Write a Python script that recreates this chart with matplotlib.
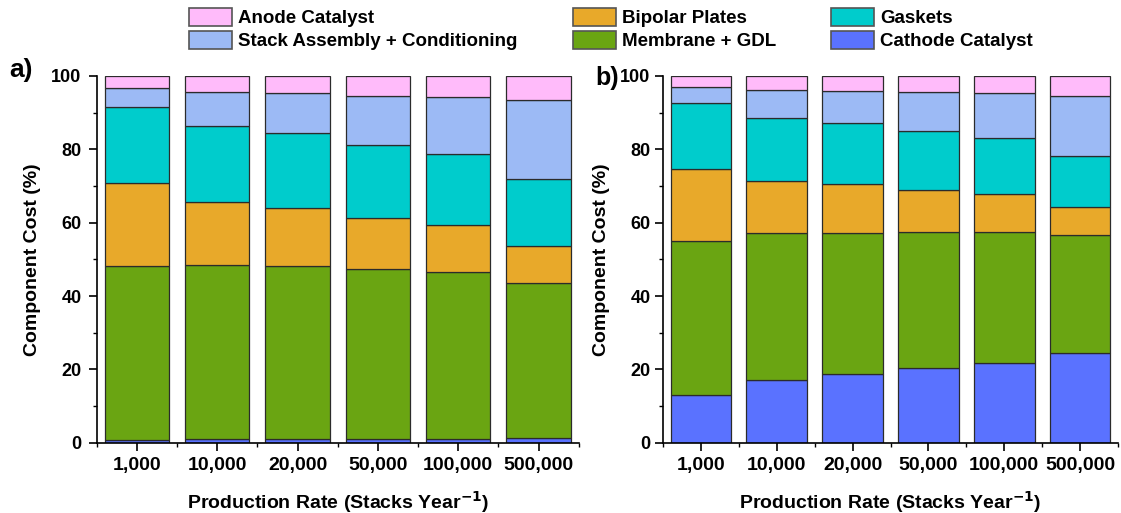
import numpy as np
import matplotlib
matplotlib.use("Agg")
import matplotlib.pyplot as plt
from matplotlib.patches import Patch
from matplotlib.ticker import MultipleLocator

plt.rcParams['font.family'] = ['Liberation Sans', 'DejaVu Sans']
plt.rcParams['font.weight'] = 'bold'
plt.rcParams['mathtext.default'] = 'bf'

rates = ['1,000', '10,000', '20,000', '50,000', '100,000', '500,000']

# component shares (%) per production rate, bottom to top
comp_names = ['Cathode Catalyst', 'Membrane + GDL', 'Bipolar Plates',
              'Gaskets', 'Stack Assembly + Conditioning', 'Anode Catalyst']
colors = ['#5a72ff', '#6aa512', '#e8a92a', '#00cccc', '#9cbaf5', '#ffbbfa']

a_cathode = [0.7, 0.9, 0.9, 1.0, 1.1, 1.4]
a_membrane = [47.6, 47.5, 47.2, 46.3, 45.4, 42.1]
a_bipolar = [22.6, 17.3, 16.0, 14.1, 12.8, 10.0]
a_gaskets = [20.6, 20.7, 20.4, 19.9, 19.3, 18.4]
a_stack = [5.2, 9.3, 10.8, 13.3, 15.6, 21.5]
a_anode = [3.3, 4.3, 4.7, 5.4, 5.8, 6.6]

b_cathode = [13.1, 17.2, 18.7, 20.3, 21.6, 24.4]
b_membrane = [41.8, 39.9, 38.6, 37.2, 35.9, 32.2]
b_bipolar = [19.7, 14.2, 13.1, 11.3, 10.2, 7.8]
b_gaskets = [18.0, 17.2, 16.7, 16.2, 15.3, 13.8]
b_stack = [4.5, 7.7, 8.8, 10.6, 12.4, 16.4]
b_anode = [2.9, 3.8, 4.1, 4.4, 4.6, 5.4]

panel_a = [a_cathode, a_membrane, a_bipolar, a_gaskets, a_stack, a_anode]
panel_b = [b_cathode, b_membrane, b_bipolar, b_gaskets, b_stack, b_anode]

fig = plt.figure(figsize=(11.21, 5.13), dpi=100)
ax_a = fig.add_axes([0.0863, 0.137, 0.430, 0.715])
ax_b = fig.add_axes([0.5914, 0.137, 0.406, 0.715])


def draw(ax, data, ypad):
    x = np.arange(len(rates))
    bottom = np.zeros(len(rates))
    for vals, c in zip(data, colors):
        ax.bar(x, vals, 0.8, bottom=bottom, color=c, edgecolor='#2b2b2b', linewidth=0.9)
        bottom += np.array(vals)
    ax.set_xlim(-0.5, len(rates) - 0.5)
    ax.set_ylim(0, 100)
    ax.set_xticks(x)
    ax.set_xticklabels(rates, fontsize=14, fontweight='bold')
    ax.set_yticks([0, 20, 40, 60, 80, 100])
    ax.set_yticklabels(['0', '20', '40', '60', '80', '100'], fontsize=13, fontweight='bold')
    ax.xaxis.set_minor_locator(MultipleLocator(1, offset=0.5))
    ax.yaxis.set_minor_locator(MultipleLocator(10))
    ax.tick_params(which='major', direction='out', length=6, width=1.2)
    ax.tick_params(which='minor', direction='out', length=3, width=1.0)
    ax.tick_params(axis='x', pad=4)
    ax.tick_params(axis='y', pad=ypad)
    for s in ['top', 'right']:
        ax.spines[s].set_visible(False)
    for s in ['left', 'bottom']:
        ax.spines[s].set_linewidth(1.2)
    ax.set_ylabel('Component Cost (%)', fontsize=14, fontweight='bold', labelpad=7)
    ax.set_xlabel('Production Rate (Stacks Year$^{-1}$)', fontsize=14,
                  fontweight='bold', labelpad=11)


draw(ax_a, panel_a, 5)
draw(ax_b, panel_b, 3)

fig.text(0.008, 0.850, 'a)', fontsize=19, fontweight='bold', va='baseline')
fig.text(0.531, 0.834, 'b)', fontsize=18, fontweight='bold', va='baseline')

# legend laid out row-wise: col 1 anode/stack, col 2 bipolar/membrane, col 3 gaskets/cathode
order = [5, 4, 2, 1, 3, 0]
handles = [Patch(facecolor=colors[i], edgecolor='#555555', linewidth=1.2) for i in order]
labels = [comp_names[i] for i in order]
fig.legend(handles, labels, ncol=3, loc='upper left', bbox_to_anchor=(0.1686, 0.984),
           frameon=False, prop=dict(weight='bold', size=13.5),
           handlelength=2.3, handleheight=1.07, handletextpad=0.33,
           columnspacing=2.93, labelspacing=0.2, borderpad=0, borderaxespad=0)

fig.savefig('out.png', dpi=100)
